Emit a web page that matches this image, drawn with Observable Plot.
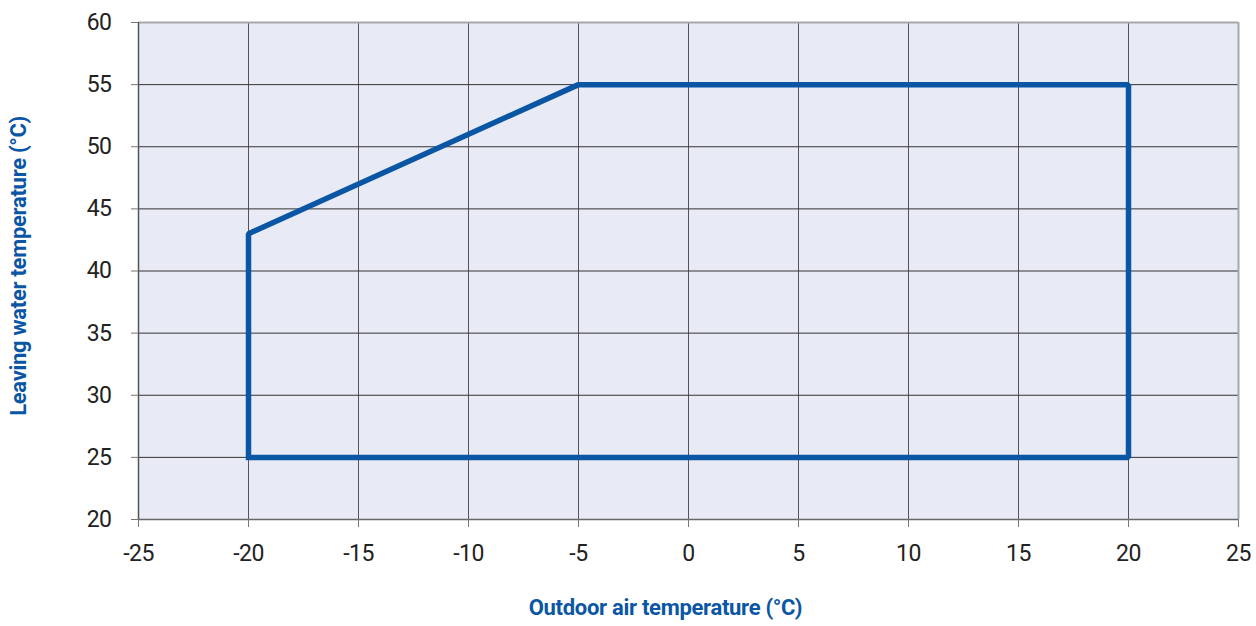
<!DOCTYPE html>
<html>
<head>
<meta charset="utf-8">
<script src="https://cdn.jsdelivr.net/npm/d3@7"></script>
<script src="https://cdn.jsdelivr.net/npm/@observablehq/plot@0.6"></script>
<style>
  html, body { margin: 0; padding: 0; background: #fff; }
  #chart svg { display: block; }
  #chart svg g[aria-label="text"] text { letter-spacing: -0.3px; }
  #chart svg g[aria-label$="tick label"] text { letter-spacing: -0.5px; }
</style>
</head>
<body>
<div id="chart"></div>
<script>
// Operating envelope: outdoor air temperature vs leaving water temperature
const envelopeOutdoor = [-20, -20, -5, 20, 20, -20];
const envelopeLeaving = [25, 43, 55, 55, 25, 25];

const xTicks = [-25, -20, -15, -10, -5, 0, 5, 10, 15, 20, 25];
const yTicks = [20, 25, 30, 35, 40, 45, 50, 55, 60];

const xTitle = "Outdoor air temperature (°C)";
const yTitle = "Leaving water temperature (°C)";

const envelope = envelopeOutdoor.map((x, i) => ({x, y: envelopeLeaving[i]}));

const font = "Roboto, 'DejaVu Sans', sans-serif";
const blue = "#0b56a4";
const fmt = d => String(d); // plain hyphen for negatives

const chart = Plot.plot({
  width: 1256,
  height: 626,
  marginLeft: 138,
  marginRight: 18,
  marginTop: 22,
  marginBottom: 107,
  style: {fontFamily: font, fontSize: "22px", background: "#fff"},
  x: {domain: [-25, 25], ticks: xTicks},
  y: {domain: [20, 60], ticks: yTicks},
  marks: [
    Plot.frame({fill: "#e8ebf5", stroke: null}),
    Plot.gridX(xTicks.slice(1, -1), {stroke: "#555", strokeOpacity: 1, strokeWidth: 1}),
    Plot.gridY(yTicks.slice(1, -1), {stroke: "#333", strokeOpacity: 1, strokeWidth: 1}),
    Plot.ruleY([60], {stroke: "#a6a8ab", strokeWidth: 2}),
    Plot.ruleX([25], {stroke: "#a6a8ab", strokeWidth: 2}),
    Plot.ruleX([-25], {stroke: "#555", strokeWidth: 1.5}),
    Plot.ruleY([20], {stroke: "#666", strokeWidth: 1.5}),
    Plot.axisX(xTicks, {
      label: null, tickSize: 8, tickPadding: 17, stroke: "#777",
      fill: "#222", fontSize: 23, tickFormat: fmt
    }),
    Plot.axisY(yTicks, {
      label: null, tickSize: 7, tickPadding: 20, stroke: "#777",
      fill: "#222", fontSize: 23, tickFormat: fmt
    }),
    Plot.line(envelope, {
      x: "x", y: "y", stroke: blue, strokeWidth: 5.5,
      strokeLinejoin: "miter", strokeLinecap: "square", curve: "linear"
    }),
    Plot.text([xTitle], {
      frameAnchor: "bottom", dx: -23, dy: 95, fill: blue, fontWeight: "bold",
      fontSize: 22, text: d => d
    }),
    Plot.text([yTitle], {
      frameAnchor: "left", dx: -120, dy: -5, rotate: -90, textAnchor: "middle",
      fill: blue, fontWeight: "bold", fontSize: 22, text: d => d
    })
  ]
});

document.getElementById("chart").append(chart);
</script>
</body>
</html>
